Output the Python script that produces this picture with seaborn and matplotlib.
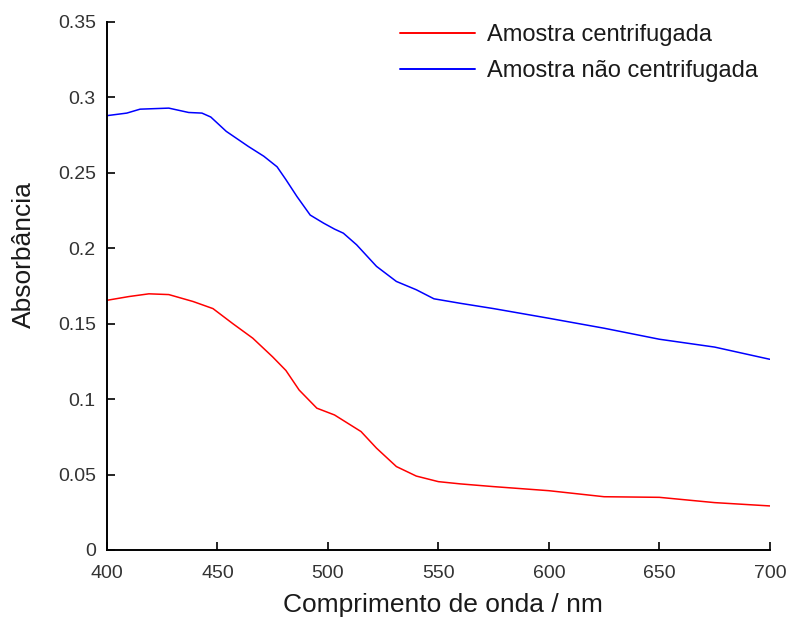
import numpy as np
import pandas as pd
import matplotlib
matplotlib.use("Agg")
import matplotlib.pyplot as plt
import seaborn as sns
from matplotlib.ticker import FuncFormatter

# Absorbance spectra (wavelength in nm)
wl_cent = [400, 410, 419, 428, 439, 448, 457, 466, 475, 481, 487, 495, 503, 509,
           515, 522, 531, 540, 550, 560, 575, 600, 625, 650, 675, 700]
abs_cent = [0.1655, 0.168, 0.1698, 0.1693, 0.1647, 0.160, 0.150, 0.1404, 0.128,
            0.119, 0.106, 0.094, 0.0895, 0.084, 0.0785, 0.0675, 0.0553, 0.049,
            0.0453, 0.0438, 0.042, 0.0393, 0.0353, 0.0349, 0.0314, 0.0292]

wl_nao = [400, 409, 415, 428, 437, 443, 447, 454, 464, 471, 477, 481, 486, 492,
          498, 503, 507, 513, 522, 531, 540, 548, 560, 575, 600, 625, 650, 675, 700]
abs_nao = [0.2879, 0.2896, 0.2922, 0.2929, 0.290, 0.2896, 0.287, 0.2775, 0.2675,
           0.261, 0.254, 0.2455, 0.2343, 0.222, 0.2167, 0.2127, 0.21, 0.2023,
           0.188, 0.178, 0.1725, 0.1665, 0.1635, 0.160, 0.1536, 0.147, 0.1397,
           0.1345, 0.1264]

label_cent = "Amostra centrifugada"
label_nao = "Amostra não centrifugada"

df = pd.concat([
    pd.DataFrame({"wl": wl_cent, "A": abs_cent, "amostra": label_cent}),
    pd.DataFrame({"wl": wl_nao, "A": abs_nao, "amostra": label_nao}),
])

sns.set_theme(style="ticks")
plt.rcParams["font.family"] = ["Liberation Sans", "DejaVu Sans"]

fig = plt.figure(figsize=(7.92, 6.19), dpi=100)
ax = fig.add_axes([0.135, 0.1115, 0.837, 0.853])

sns.lineplot(data=df, x="wl", y="A", hue="amostra",
             palette={label_cent: "#ff0000", label_nao: "#0000ff"},
             linewidth=1.1, ax=ax, sort=True, estimator=None)

ax.set_xlim(400, 700)
ax.set_ylim(0, 0.35)
ax.set_xticks([400, 450, 500, 550, 600, 650, 700])
ax.set_yticks([0, 0.05, 0.1, 0.15, 0.2, 0.25, 0.3, 0.35])
ax.yaxis.set_major_formatter(FuncFormatter(lambda v, p: f"{v:g}"))

ax.set_xlabel("Comprimento de onda / nm", fontsize=19, color="#1a1a1a")
ax.set_ylabel("Absorbância", fontsize=19, color="#1a1a1a")
ax.xaxis.set_label_coords(0.5075, -0.082)
ax.yaxis.set_label_coords(-0.1075, 0.559)

ax.tick_params(direction="in", length=6, width=1.2, labelsize=14,
               colors="#000000", labelcolor="#333333")
ax.tick_params(axis="x", pad=11)
ax.tick_params(axis="y", pad=8)
for s in ["top", "right"]:
    ax.spines[s].set_visible(False)
for s in ["left", "bottom"]:
    ax.spines[s].set_linewidth(1.4)
    ax.spines[s].set_color("#000000")

leg = ax.legend(loc="upper left", frameon=False, fontsize=17, title=None,
                handlelength=3.2, handletextpad=0.5, labelspacing=0.61,
                bbox_to_anchor=(0.442, 0.9965), borderaxespad=0, borderpad=0)
for line in leg.get_lines():
    line.set_linewidth(1.4)
for t in leg.get_texts():
    t.set_color("#1a1a1a")

fig.savefig("out.png", dpi=100)
